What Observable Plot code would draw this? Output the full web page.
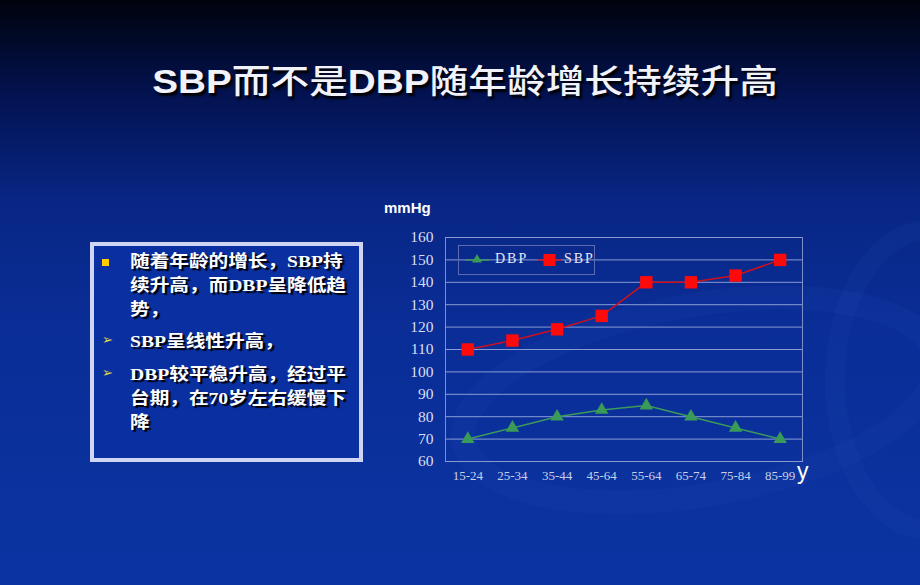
<!DOCTYPE html>
<html><head><meta charset="utf-8">
<script src="https://cdn.jsdelivr.net/npm/d3@7"></script>
<script src="https://cdn.jsdelivr.net/npm/@observablehq/plot@0.6"></script>
<style>
html,body{margin:0;padding:0;}
body{width:920px;height:585px;overflow:hidden;position:relative;
 background:linear-gradient(to bottom,#00030c 0%,#031250 16%,#082684 34%,#0a2d96 55%,#0b34a2 100%);
 font-family:"Liberation Sans","Noto Sans CJK SC",sans-serif;}
#deco{position:absolute;left:0;top:0;}
#title{position:absolute;left:0;width:930px;top:55px;height:52px;line-height:52px;text-align:center;color:#f2f2fa;
 text-shadow:2px 3px 2px #000;white-space:nowrap;transform:scaleX(1.18);transform-origin:465px 0;}
#title .l{font:bold 32.8px "Liberation Sans",sans-serif;}
#title .c{font:500 32.8px "Noto Sans CJK SC",sans-serif;}
#box{position:absolute;left:90px;top:242px;width:265px;height:212px;background:#0a2fa0;border:4px solid #cfd5f2;}
.p{position:absolute;left:36px;width:230px;color:#fff;font:bold 16.8px/24px "Liberation Serif","Noto Sans CJK SC",serif;text-shadow:2px 2px 1px #000;white-space:nowrap;transform:scaleX(1.17);transform-origin:0 0;}
.b{position:absolute;left:8px;}
#mm{position:absolute;left:384px;top:199px;color:#fff;font:bold 15px "Liberation Sans",sans-serif;}
#yl{position:absolute;left:797px;top:458px;color:#fff;font:23px "Liberation Sans",sans-serif;}
#chart{position:absolute;left:378px;top:225px;}
#legend{position:absolute;left:458px;top:245px;width:135px;height:28px;border:1px solid #5a6cb0;
 color:#e4e8f6;font:14px "Liberation Serif",serif;letter-spacing:2px;}
#legend span{position:absolute;top:5px;}
</style></head><body>
<svg id="deco" width="920" height="585">
 <ellipse cx="700" cy="400" rx="240" ry="95" fill="none" stroke="#2a4fb8" stroke-opacity="0.13" stroke-width="24" transform="rotate(-10 700 400)"/>
 <ellipse cx="930" cy="380" rx="95" ry="150" fill="none" stroke="#2a4fb8" stroke-opacity="0.12" stroke-width="20"/>
</svg>
<div id="title"><span class="l">SBP</span><span class="c">而不是</span><span class="l">DBP</span><span class="c">随年龄增长持续升高</span></div>
<div id="box">
 <div class="b" style="top:13px;width:7px;height:7px;background:#ffcc00;"></div>
 <div class="p" style="top:4px;">随着年龄的增长，SBP持<br>续升高，而DBP呈降低趋<br>势，</div>
 <div class="b" style="top:86px;color:#e0dc40;font:13px 'DejaVu Sans';">➢</div>
 <div class="p" style="top:84px;">SBP呈线性升高，</div>
 <div class="b" style="top:119px;color:#e0dc40;font:13px 'DejaVu Sans';">➢</div>
 <div class="p" style="top:117px;">DBP较平稳升高，经过平<br>台期，在70岁左右缓慢下<br>降</div>
</div>
<div id="mm">mmHg</div>
<div id="chart"></div>
<div id="legend">
 <svg width="135" height="28" style="position:absolute;left:0;top:0">
  <line x1="6" x2="30" y1="14" y2="14" stroke="#3c9a5a" stroke-width="1.5"/>
  <path d="M18,8 L23,16.5 L13,16.5 Z" fill="#3a9a58"/>
  <line x1="79" x2="102" y1="14" y2="14" stroke="#d0101c" stroke-width="1.5"/>
  <rect x="84.5" y="8" width="12" height="12" fill="#ff0a0a"/>
 </svg>
 <span style="left:36px">DBP</span><span style="left:105px">SBP</span>
</div>
<div id="yl">y</div>
<script>
const categories = ["15-24","25-34","35-44","45-64","55-64","65-74","75-84","85-99"];
const dbp = [70,75,80,83,85,80,75,70];
const sbp = [110,114,119,125,140,140,143,150];
const yTicks = [60,70,80,90,100,110,120,130,140,150,160];

const dbpRows = categories.map((c,i)=>({age:c,value:dbp[i]}));
const sbpRows = categories.map((c,i)=>({age:c,value:sbp[i]}));

const chart = Plot.plot({
  width: 432, height: 265,
  marginLeft: 67, marginRight: 8, marginTop: 12, marginBottom: 29,
  style: {background:"transparent", color:"#d4dbf0", fontFamily:"Liberation Serif, serif", fontSize:"14px", overflow:"visible"},
  x: {type:"point", domain: categories, padding: 0.5, round: false, label: null},
  y: {domain:[60,160], label: null},
  marks: [
    Plot.gridY(yTicks, {stroke:"#b4c0ea", strokeOpacity:0.75}),
    Plot.frame({stroke:"#8a9ad0", strokeOpacity:0.9}),
    Plot.axisY(yTicks, {tickSize:0, tickPadding:12, fontSize:15.5, fill:"#d8def2"}),
    Plot.axisX({tickSize:0, tickPadding:9, fontSize:13, fill:"#c8d0ea", style:"letter-spacing:1px"}),
    Plot.line(dbpRows, {x:"age", y:"value", stroke:"#3c9a5a", strokeWidth:1.5}),
    Plot.dot(dbpRows, {x:"age", y:"value", symbol:"triangle", fill:"#3a9a58", r:5}),
    Plot.line(sbpRows, {x:"age", y:"value", stroke:"#d0101c", strokeWidth:1.5}),
    Plot.dot(sbpRows, {x:"age", y:"value", symbol:"square", fill:"#ff0a0a", r:7})
  ]
});
document.getElementById("chart").appendChild(chart);
</script>
</body></html>
